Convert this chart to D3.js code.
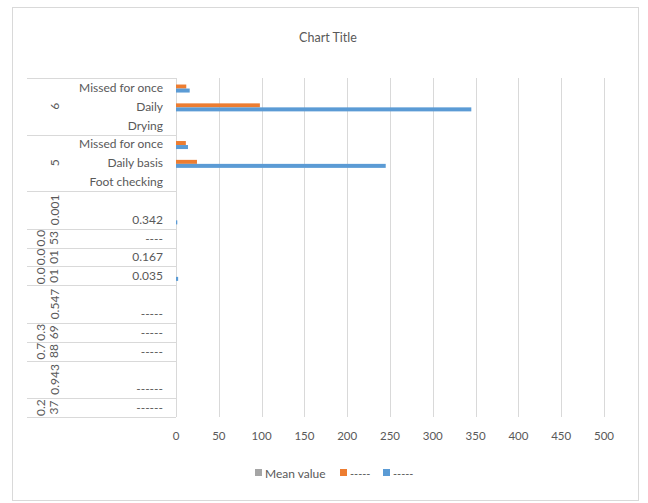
<!DOCTYPE html>
<html>
<head>
<meta charset="utf-8">
<script src="https://cdn.jsdelivr.net/npm/d3@7/dist/d3.min.js"></script>
<style>
  html, body { margin: 0; padding: 0; background: #fff; }
  svg text { font-family: Lato, "Open Sans", sans-serif; fill: #595959; }
</style>
</head>
<body>
<svg id="chart" width="648" height="503"></svg>
<script>
// Leaf categories, top to bottom
const categories = ["Missed for once", "Daily", "Drying", "Missed for once", "Daily basis", "Foot checking",
  "", "0.342", "----", "0.167", "0.035", "", "-----", "-----", "-----", "", "------", "------"];
// Outer grouping level: label and number of leaf rows it spans
const groupLabels = ["6", "5", "0.001", "0.053", "0.001", "0.001", "0.547", "0.369", "0.788", "0.943", "0.237"];
const groupSizes  = [3, 3, 2, 1, 1, 1, 2, 1, 1, 2, 1];

const seriesNames = ["Mean value", "-----", "------"];
const legendLabels = ["Mean value", "-----", "-----"];
const meanValues   = [0, 0, 0, 0, 0, 0, 0, 0, 0, 0, 0, 0, 0, 0, 0, 0, 0, 0];
const orangeValues = [12, 98, 0, 11.5, 24.5, 0, 0, 0, 0, 0, 0, 0, 0, 0, 0, 0, 0, 0];
const blueValues   = [16, 345, 0, 14, 245, 0, 0, 1.5, 0, 0, 2.5, 0, 0, 0, 0, 0, 0, 0];
const seriesColors = ["#A5A5A5", "#ED7D31", "#5B9BD5"];
const xTicks = [0, 50, 100, 150, 200, 250, 300, 350, 400, 450, 500];

const svg = d3.select("#chart");

// chart frame
svg.append("rect")
  .attr("x", 12.5).attr("y", 7.5).attr("width", 626).attr("height", 493)
  .attr("fill", "#fff").attr("stroke", "#D9D9D9").attr("stroke-width", 1);

svg.append("text")
  .attr("x", 328).attr("y", 37)
  .attr("text-anchor", "middle").attr("dominant-baseline", "central")
  .style("font-size", "12.5px")
  .text("Chart Title");

const x = d3.scaleLinear().domain([0, 500]).range([176, 604]);
const y = d3.scaleBand().domain(d3.range(categories.length)).range([78, 417]);
const s = d3.scaleBand().domain(seriesNames).range([0, y.bandwidth()])
  .paddingInner(0).paddingOuter(0.85).align(0.37);

const plotTop = y.range()[0], plotBottom = y.range()[1];

// vertical gridlines (the first one doubles as the category axis line)
svg.append("g").selectAll("line").data(xTicks).join("line")
  .attr("x1", d => Math.round(x(d)) + 0.5).attr("x2", d => Math.round(x(d)) + 0.5)
  .attr("y1", plotTop).attr("y2", plotBottom)
  .attr("stroke", "#D9D9D9").attr("stroke-width", 1);

// x tick labels
svg.append("g").selectAll("text").data(xTicks).join("text")
  .attr("x", d => x(d)).attr("y", 435)
  .attr("text-anchor", "middle").attr("dominant-baseline", "central")
  .style("font-size", "11.5px")
  .text(d => d);

// bars
const series = [meanValues, orangeValues, blueValues];
series.forEach((vals, si) => {
  svg.append("g").selectAll("rect").data(vals).join("rect")
    .attr("x", x(0))
    .attr("y", (d, i) => y(i) + s(seriesNames[si]))
    .attr("width", d => x(d) - x(0))
    .attr("height", s.bandwidth())
    .attr("fill", seriesColors[si]);
});

// group boundaries
const starts = [0];
groupSizes.forEach(n => starts.push(starts[starts.length - 1] + n));
const rowEdge = i => (i < categories.length ? y(i) : plotBottom);
svg.append("g").selectAll("line").data(starts).join("line")
  .attr("x1", 27).attr("x2", 176)
  .attr("y1", d => Math.round(rowEdge(d)) + 0.5)
  .attr("y2", d => Math.round(rowEdge(d)) + 0.5)
  .attr("stroke", "#D9D9D9");

// leaf labels
svg.append("g").selectAll("text").data(categories).join("text")
  .attr("x", 163)
  .attr("y", (d, i) => y(i) + y.bandwidth() / 2)
  .attr("text-anchor", "end").attr("dominant-baseline", "central")
  .style("font-size", "12px")
  .text(d => d);

// outer group labels, rotated; narrow cells wrap after three characters
const gl = svg.append("g");
groupLabels.forEach((lab, gi) => {
  const cy = (rowEdge(starts[gi]) + rowEdge(starts[gi + 1])) / 2;
  const lines = groupSizes[gi] === 1 && lab.length > 3 ? [lab.slice(0, 3), lab.slice(3)] : [lab];
  const xs = lines.length === 2 ? [40, 53] : [54];
  lines.forEach((ln, li) => {
    gl.append("text")
      .attr("transform", `translate(${xs[li]},${cy}) rotate(-90)`)
      .attr("text-anchor", "middle").attr("dominant-baseline", "central")
      .style("font-size", "12px")
      .text(ln);
  });
});

// legend
const legendX = [255, 340, 383];
legendLabels.forEach((lab, i) => {
  svg.append("rect")
    .attr("x", legendX[i]).attr("y", 469).attr("width", 7).attr("height", 7)
    .attr("fill", seriesColors[i]);
  svg.append("text")
    .attr("x", legendX[i] + 10).attr("y", 473)
    .attr("dominant-baseline", "central")
    .style("font-size", i === 0 ? "12px" : "11px")
    .text(lab);
});
</script>
</body>
</html>
